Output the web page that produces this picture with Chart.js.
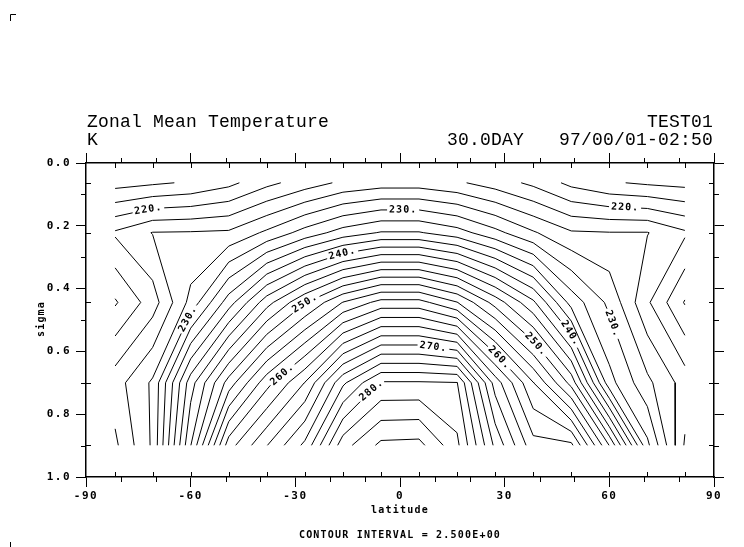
<!DOCTYPE html>
<html>
<head>
<meta charset="utf-8">
<script src="https://cdn.jsdelivr.net/npm/chart.js@4/dist/chart.umd.min.js"></script>
<style>
  html, body { margin: 0; padding: 0; background: #fff; }
</style>
</head>
<body>
<canvas id="chart" width="744" height="547"></canvas>
<script>
// grid of the model output: gaussian latitudes and sigma levels
const LATS = [-81.65, -70.91, -60.0, -49.09, -38.18, -27.27, -16.36, -5.45,
              5.45, 16.36, 27.27, 38.18, 49.09, 60.0, 70.91, 81.65];
const SIGMAS = [0.063, 0.222, 0.444, 0.700, 0.899];

// zonal mean temperature (K), one row per sigma level
const T_SIG063 = [214.0, 214.6, 215.3, 216.8, 219.3, 221.2, 223.0, 223.8, 223.8, 222.9, 221.3, 219.4, 216.8, 215.3, 214.6, 214.2];
const T_SIG222 = [222.85, 225.1, 225.2, 225.4, 228.0, 231.0, 233.6, 235.2, 235.2, 233.6, 230.8, 227.8, 225.3, 225.1, 225.1, 222.9];
const T_SIG444 = [217.2, 221.3, 228.3, 236.3, 244.0, 249.8, 255.1, 258.4, 258.4, 255.1, 249.0, 243.0, 234.0, 229.4, 222.9, 217.3];
const T_SIG700 = [223.9, 227.9, 241.4, 251.1, 259.1, 265.1, 274.5, 280.3, 280.3, 280.1, 266.4, 257.6, 249.1, 233.4, 228.1, 223.9];
const T_SIG899 = [222.0, 227.9, 244.9, 261.4, 267.4, 273.1, 284.0, 288.1, 288.3, 283.1, 271.9, 263.4, 263.1, 249.9, 233.1, 222.2];
const FIELD = [T_SIG063, T_SIG222, T_SIG444, T_SIG700, T_SIG899];

const INTERVAL = 2.5;
const X_TICKS = [-90, -60, -30, 0, 30, 60, 90];
const X_MINOR = [-80, -70, -50, -40, -20, -10, 10, 20, 40, 50, 70, 80];
const Y_TICKS = [0, 0.2, 0.4, 0.6, 0.8, 1.0];
const Y_MINOR = [0.1, 0.3, 0.5, 0.7, 0.9];

// where the labelled contours carry their value
const LABEL_SPOTS = [
  { value: 220, lat: -72.1, sigma: 0.150 },
  { value: 220, lat: 64.5, sigma: 0.143 },
  { value: 230, lat: 0.9, sigma: 0.159 },
  { value: 240, lat: -16.3, sigma: 0.296 },
  { value: 250, lat: -26.6, sigma: 0.456 },
  { value: 260, lat: -33.8, sigma: 0.673 },
  { value: 270, lat: 9.5, sigma: 0.593 },
  { value: 280, lat: -7.9, sigma: 0.727 },
  { value: 230, lat: -60.1, sigma: 0.500 },
  { value: 230, lat: 61.4, sigma: 0.510 },
  { value: 240, lat: 50.0, sigma: 0.532 },
  { value: 250, lat: 39.3, sigma: 0.574 },
  { value: 260, lat: 29.3, sigma: 0.612 }
];

const LABEL_FONT = 'bold 10px "DejaVu Sans Mono"';
const LABEL_SPACING = '1px';

// marching squares on the lat/sigma grid, segments linked into polylines
function contourLines(field, level) {
  const pts = {};
  const segs = [];
  const cross = (key, j1, k1, j2, k2) => {
    if (!(key in pts)) {
      const v1 = field[k1][j1], v2 = field[k2][j2];
      const t = (level - v1) / (v2 - v1);
      pts[key] = {
        x: LATS[j1] + t * (LATS[j2] - LATS[j1]),
        y: SIGMAS[k1] + t * (SIGMAS[k2] - SIGMAS[k1])
      };
    }
    return key;
  };
  for (let k = 0; k < SIGMAS.length - 1; k++) {
    for (let j = 0; j < LATS.length - 1; j++) {
      const c = [field[k][j], field[k][j + 1], field[k + 1][j + 1], field[k + 1][j]];
      const up = c.map(v => v >= level);
      const edges = [
        up[0] !== up[1] ? cross('h' + k + '_' + j, j, k, j + 1, k) : null,
        up[1] !== up[2] ? cross('v' + k + '_' + (j + 1), j + 1, k, j + 1, k + 1) : null,
        up[3] !== up[2] ? cross('h' + (k + 1) + '_' + j, j, k + 1, j + 1, k + 1) : null,
        up[0] !== up[3] ? cross('v' + k + '_' + j, j, k, j, k + 1) : null
      ];
      const hits = edges.filter(e => e);
      if (hits.length === 2) {
        segs.push(hits);
      } else if (hits.length === 4) {
        const mid = (c[0] + c[1] + c[2] + c[3]) / 4 >= level;
        const adj = [[0, 3], [0, 1], [1, 2], [2, 3]];
        for (let i = 0; i < 4; i++) {
          if (up[i] !== mid) segs.push([edges[adj[i][0]], edges[adj[i][1]]]);
        }
      }
    }
  }
  const byKey = {};
  segs.forEach((s, i) => s.forEach(kk => (byKey[kk] = byKey[kk] || []).push(i)));
  const used = segs.map(() => false);
  const walk = (start, fromKey) => {
    const keys = [fromKey];
    let i = start, cur = fromKey;
    while (i !== undefined && !used[i]) {
      used[i] = true;
      cur = segs[i][0] === cur ? segs[i][1] : segs[i][0];
      keys.push(cur);
      i = byKey[cur].find(n => !used[n]);
    }
    return keys;
  };
  const lines = [];
  Object.keys(byKey).forEach(kk => {
    if (byKey[kk].length === 1 && !used[byKey[kk][0]]) lines.push(walk(byKey[kk][0], kk));
  });
  segs.forEach((s, i) => { if (!used[i]) lines.push(walk(i, s[0])); });
  return lines.map(ks => ks.map(kk => ({ x: pts[kk].x, y: pts[kk].y })));
}

const allT = FIELD.flat();
const levels = [];
for (let v = Math.ceil(Math.min(...allT) / INTERVAL) * INTERVAL; v <= Math.max(...allT); v += INTERVAL) {
  levels.push(v);
}

const runs = [];
const runLevel = [];
const datasets = [];
levels.forEach(lv => {
  contourLines(FIELD, lv).forEach(line => {
    runs.push([line]);
    runLevel.push(lv);
    datasets.push({
      data: line,
      showLine: true,
      borderColor: '#000',
      borderWidth: 1,
      pointRadius: 0,
      pointHoverRadius: 0,
      fill: false,
      spanGaps: false,
      tension: 0
    });
  });
});

const tickFont = { family: '"DejaVu Sans Mono"', size: 11, weight: 'bold' };

const decor = {
  id: 'decor',
  beforeUpdate(chart) { chart.ctx.letterSpacing = '1.5px'; },
  beforeDraw(chart) { chart.ctx.letterSpacing = '1.5px'; },
  afterDraw(chart) {
    const { ctx, chartArea: a, scales: { x, y } } = chart;
    ctx.save();
    ctx.strokeStyle = '#000';
    ctx.lineWidth = 1;
    ctx.beginPath();
    X_MINOR.forEach(v => {
      const px = Math.round(x.getPixelForValue(v)) + 0.5;
      ctx.moveTo(px, a.top); ctx.lineTo(px, a.top - 5);
      ctx.moveTo(px, a.bottom); ctx.lineTo(px, a.bottom + 5);
    });
    Y_MINOR.forEach(v => {
      const py = Math.round(y.getPixelForValue(v)) + 0.5;
      ctx.moveTo(a.left, py); ctx.lineTo(a.left - 5, py);
      ctx.moveTo(a.right, py); ctx.lineTo(a.right + 5, py);
    });
    LATS.forEach(v => {
      const px = Math.round(x.getPixelForValue(v)) + 0.5;
      ctx.moveTo(px, a.top); ctx.lineTo(px, a.top + 5);
      ctx.moveTo(px, a.bottom); ctx.lineTo(px, a.bottom - 5);
    });
    SIGMAS.forEach(v => {
      const py = Math.round(y.getPixelForValue(v)) + 0.5;
      ctx.moveTo(a.left, py); ctx.lineTo(a.left + 5, py);
      ctx.moveTo(a.right, py); ctx.lineTo(a.right - 5, py);
    });
    // crop marks of the page
    ctx.moveTo(10.5, 21); ctx.lineTo(10.5, 14.5); ctx.lineTo(16, 14.5);
    ctx.moveTo(10.5, 542); ctx.lineTo(10.5, 547);
    ctx.stroke();

    ctx.fillStyle = '#000';
    ctx.font = '18px "Liberation Mono"';
    ctx.letterSpacing = '0.2px';
    ctx.textBaseline = 'alphabetic';
    ctx.textAlign = 'left';
    ctx.fillText('Zonal Mean Temperature', 87, 126.5);
    ctx.fillText('K', 87, 145);
    ctx.textAlign = 'right';
    ctx.fillText('TEST01', 713, 126.5);
    ctx.fillText('30.0DAY', 524, 145);
    ctx.fillText('97/00/01-02:50', 713, 145);

    ctx.font = 'bold 10px "DejaVu Sans Mono"';
    ctx.letterSpacing = '1.2px';
    ctx.textAlign = 'center';
    ctx.fillText('latitude', 400, 512.5);
    ctx.fillText('CONTOUR INTERVAL = 2.500E+00', 400, 538);
    ctx.translate(44, 319);
    ctx.rotate(-Math.PI / 2);
    ctx.fillText('sigma', 0, 0);
    ctx.restore();
  }
};

const contourLabels = {
  id: 'contourLabels',
  afterDatasetsDraw(chart) {
    const labels = chart.$contourLabels || [];
    const { ctx, scales: { x, y } } = chart;
    ctx.save();
    ctx.font = LABEL_FONT;
    ctx.letterSpacing = LABEL_SPACING;
    ctx.fillStyle = '#000';
    ctx.textAlign = 'center';
    ctx.textBaseline = 'middle';
    labels.forEach(l => {
      ctx.save();
      ctx.translate(x.getPixelForValue(l.pos.x), y.getPixelForValue(l.pos.y));
      ctx.rotate(l.ang);
      ctx.fillText(l.text, 0, 0);
      ctx.restore();
    });
    ctx.restore();
  }
};

function placeLabels(chart) {
  const xs = chart.scales.x, ys = chart.scales.y, ctx = chart.ctx;
  const toPx = p => [xs.getPixelForValue(p.x), ys.getPixelForValue(p.y)];
  const toData = q => ({ x: xs.getValueForPixel(q[0]), y: ys.getValueForPixel(q[1]) });
  ctx.save();
  ctx.font = LABEL_FONT;
  ctx.letterSpacing = LABEL_SPACING;
  const labels = [];
  LABEL_SPOTS.forEach(spot => {
    const text = spot.value + '.';
    const half = ctx.measureText(text).width / 2 + 2;
    const ax = xs.getPixelForValue(spot.lat), ay = ys.getPixelForValue(spot.sigma);
    let best = null;
    runs.forEach((list, di) => {
      if (runLevel[di] !== spot.value) return;
      list.forEach((run, ri) => {
        const P = run.map(toPx);
        const L = [0];
        for (let i = 1; i < P.length; i++) {
          L.push(L[i - 1] + Math.hypot(P[i][0] - P[i - 1][0], P[i][1] - P[i - 1][1]));
        }
        for (let i = 0; i < P.length - 1; i++) {
          const dx = P[i + 1][0] - P[i][0], dy = P[i + 1][1] - P[i][1];
          let t = ((ax - P[i][0]) * dx + (ay - P[i][1]) * dy) / ((dx * dx + dy * dy) || 1);
          t = Math.max(0, Math.min(1, t));
          const d = Math.hypot(P[i][0] + t * dx - ax, P[i][1] + t * dy - ay);
          if (!best || d < best.d) best = { d, di, ri, P, L, s: L[i] + t * (L[i + 1] - L[i]) };
        }
      });
    });
    if (!best) return;
    const { di, ri, P, L } = best;
    const total = L[L.length - 1];
    const s = Math.max(half, Math.min(total - half, best.s));
    const at = v => {
      let i = 1;
      while (i < L.length - 1 && L[i] < v) i++;
      const f = (v - L[i - 1]) / ((L[i] - L[i - 1]) || 1);
      return [P[i - 1][0] + f * (P[i][0] - P[i - 1][0]), P[i - 1][1] + f * (P[i][1] - P[i - 1][1])];
    };
    const a = at(s - half), b = at(s + half), m = at(s);
    const run = runs[di][ri];
    const before = run.filter((p, i) => L[i] < s - half).concat([toData(a)]);
    const after = [toData(b)].concat(run.filter((p, i) => L[i] > s + half));
    runs[di].splice(ri, 1, before, after);
    let ang = Math.atan2(b[1] - a[1], b[0] - a[0]);
    if (ang > Math.PI / 2) ang -= Math.PI;
    if (ang < -Math.PI / 2) ang += Math.PI;
    labels.push({ text, pos: toData(m), ang });
  });
  ctx.restore();
  chart.data.datasets.forEach((ds, di) => {
    const data = [];
    runs[di].forEach((r, i) => {
      if (i) data.push({ x: r[0].x, y: null });
      data.push(...r);
    });
    ds.data = data;
  });
  chart.$contourLabels = labels;
  chart.update('none');
}

const chart = new Chart(document.getElementById('chart'), {
  type: 'scatter',
  data: { datasets },
  options: {
    responsive: false,
    animation: false,
    devicePixelRatio: 1,
    events: [],
    layout: { padding: { top: 153, right: 20, bottom: 40, left: 0 } },
    plugins: { legend: { display: false }, tooltip: { enabled: false } },
    scales: {
      x: {
        type: 'linear', position: 'bottom', min: -90, max: 90,
        afterBuildTicks: s => { s.ticks = X_TICKS.map(v => ({ value: v })); },
        afterFit: s => { s.height = 30; },
        ticks: { font: tickFont, color: '#000', padding: 3, maxRotation: 0, autoSkip: false, callback: v => String(v) },
        grid: { drawOnChartArea: false, tickLength: 10, color: '#000', lineWidth: 1 },
        border: { color: '#000', width: 1.5 }
      },
      xTop: {
        type: 'linear', position: 'top', min: -90, max: 90,
        afterBuildTicks: s => { s.ticks = X_TICKS.map(v => ({ value: v })); },
        afterFit: s => { s.height = 10; },
        ticks: { display: false },
        grid: { drawOnChartArea: false, tickLength: 10, color: '#000', lineWidth: 1 },
        border: { color: '#000', width: 1.5 }
      },
      y: {
        type: 'linear', position: 'left', min: 0, max: 1, reverse: true,
        afterBuildTicks: s => { s.ticks = Y_TICKS.map(v => ({ value: v })); },
        afterFit: s => { s.width = 86; },
        ticks: { font: tickFont, color: '#000', padding: 5, callback: v => v.toFixed(1) },
        grid: { drawOnChartArea: false, tickLength: 10, color: '#000', lineWidth: 1 },
        border: { color: '#000', width: 1.5 }
      },
      yRight: {
        type: 'linear', position: 'right', min: 0, max: 1, reverse: true,
        afterBuildTicks: s => { s.ticks = Y_TICKS.map(v => ({ value: v })); },
        afterFit: s => { s.width = 10; },
        ticks: { display: false },
        grid: { drawOnChartArea: false, tickLength: 10, color: '#000', lineWidth: 1 },
        border: { color: '#000', width: 1.5 }
      }
    }
  },
  plugins: [decor, contourLabels]
});

placeLabels(chart);
</script>
</body>
</html>
